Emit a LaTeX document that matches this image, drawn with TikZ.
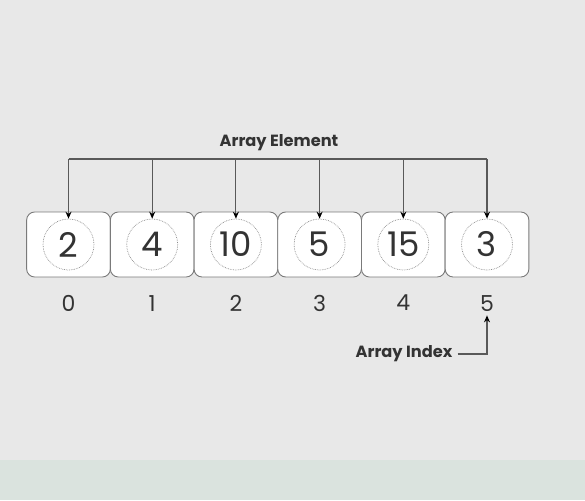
\documentclass[tikz,border=0pt]{standalone}
\usepackage{fontspec}
\setmainfont{Poppins}
\usetikzlibrary{arrows.meta,positioning}
\definecolor{bgcol}{HTML}{E8E8E8}
\definecolor{bandcol}{HTML}{DAE3DE}
\definecolor{txtcol}{HTML}{333333}
\definecolor{edgecol}{HTML}{7A7A7A}
\tikzset{
cellbox/.style={
  rectangle,
  rounded corners=8pt,
  line width=0.9pt,
  draw=edgecol,
  fill=white,
  minimum width=83.7pt,
  minimum height=65pt,
  inner sep=0pt,
  outer sep=0pt,
  }
}
\tikzset{
elemcircle/.style={
  circle,
  densely dotted,
  line width=0.7pt,
  draw=black!45,
  minimum size=51pt,
  inner sep=0pt,
  text=txtcol,
  font=\fontsize{34}{34}\selectfont,
  }
}
\tikzset{
idxnum/.style={
  inner sep=0pt,
  text=txtcol,
  font=\fontsize{22}{22}\selectfont,
  }
}
\tikzset{
tagtext/.style={
  text=txtcol,
  font=\fontsize{16.2}{17}\selectfont\bfseries,
  }
}
\tikzset{
myline/.style={
  line width=1.1pt,
  draw=black!65,
  }
}
\tikzset{
myarrow/.style={
  myline,
  -{Stealth[length=7pt,width=6pt,color=black]}
  }
}

\begin{document}
\begin{tikzpicture}[x=1pt,y=-1pt]
    \useasboundingbox (0,0) rectangle (585,500);
    \path[fill=bgcol] (0,0) rectangle (585,460);
    \path[fill=bandcol] (0,460) rectangle (585,500);

    % cells
    \node[cellbox] (box0) at (68.5,244.5) {};
    \node[cellbox, right=0pt of box0] (box1) {};
    \node[cellbox, right=0pt of box1] (box2) {};
    \node[cellbox, right=0pt of box2] (box3) {};
    \node[cellbox, right=0pt of box3] (box4) {};
    \node[cellbox, right=0pt of box4] (box5) {};

    % elements
    \node[elemcircle] (elem0) at (box0) {2};
    \node[elemcircle] (elem1) at (box1) {4};
    \node[elemcircle] (elem2) at (box2) {10};
    \node[elemcircle] (elem3) at (box3) {5};
    \node[elemcircle] (elem4) at (box4) {15};
    \node[elemcircle] (elem5) at (box5) {3};

    % indices
    \node[idxnum, below=18pt of box0] (idx0) {0};
    \node[idxnum, below=18pt of box1] (idx1) {1};
    \node[idxnum, below=18pt of box2] (idx2) {2};
    \node[idxnum, below=18pt of box3] (idx3) {3};
    \node[idxnum, below=18pt of box4] (idx4) {4};
    \node[idxnum, below=18pt of box5] (idx5) {5};

    % labels
    \node[tagtext] (elemlabel) at (279,143) {Array Element};
    \node[tagtext, inner sep=5pt] (idxlabel) at (404,354) {Array Index};

    % element edges
    \coordinate (busL) at (elem0.north |- 0,159);
    \coordinate (busR) at (elem5.north |- 0,159);
    \draw[myline] (busL) -- (busR);
    \draw[myarrow] (busL) -- (elem0.north);
    \draw[myarrow] (elem1.north |- busL) -- (elem1.north);
    \draw[myarrow] (elem2.north |- busL) -- (elem2.north);
    \draw[myarrow] (elem3.north |- busL) -- (elem3.north);
    \draw[myarrow] (elem4.north |- busL) -- (elem4.north);
    \draw[myarrow] (busR) -- (elem5.north);

    % index edge
    \coordinate (idxtip) at ([yshift=-4pt]idx5.south);
    \draw[myarrow] (idxlabel.east) -| (idxtip);
\end{tikzpicture}
\end{document}
